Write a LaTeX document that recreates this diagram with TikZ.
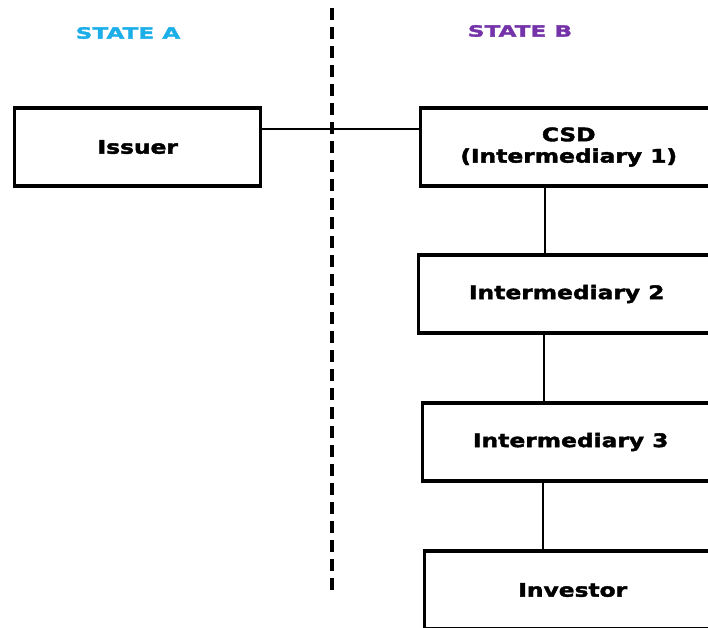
\documentclass[tikz,border=0pt]{standalone}
\usepackage{fontspec}
\setmainfont{DejaVu Sans}[FakeStretch=1.25, BoldFeatures={FakeBold=2.2}]
\newfontfamily\lblfont{DejaVu Sans}[FakeStretch=1.5, BoldFeatures={FakeBold=2.2}]
\definecolor{stateA}{HTML}{1CAEE8}
\definecolor{stateB}{HTML}{7433A8}
\tikzset{
  box/.style={draw=black, line width=2.6pt, rectangle, minimum width=222pt, minimum height=58.5pt, anchor=west, align=center, inner sep=0pt, font=\fontsize{14}{16}\selectfont\bfseries},
  link/.style={draw=black, line width=2.1pt},
  statelbl/.style={font=\lblfont\fontsize{11.6}{13}\selectfont\bfseries, inner sep=0pt},
  divider/.style={line width=2.4pt, dash pattern=on 9pt off 5.25pt}
}
\begin{document}
\begin{tikzpicture}[x=0.75pt, y=-0.75pt]
\useasboundingbox (0,0) rectangle (708,628);
\clip (0,0) rectangle (708,628);
% divider
\coordinate (dtop) at (332,8);
\coordinate (dbot) at (332,596);
\draw[divider] (dtop) -- (dbot);
% labels
\node[statelbl, text=stateA] (sa) at (128,33) {STATE A};
\node[statelbl, text=stateB] (sb) at (520,31) {STATE B};
% boxes
\node[box, minimum width=184.5pt] (issuer) at (13,147) {Issuer};
\node[box] (csd) at (419,147) {CSD\\(Intermediary 1)};
\node[box] (int2) at (417,294) {Intermediary 2};
\node[box] (int3) at (421,442) {Intermediary 3};
\node[box] (inv) at (423,590) {Investor};
% connectors
\path ([yshift=13.5pt]issuer.east) coordinate (p);
\draw[link] (p) -- (p -| csd.west);
\coordinate (c1) at (545,0);
\coordinate (c2) at (544,0);
\coordinate (c3) at (543,0);
\draw[link] (csd.south -| c1) -- (int2.north -| c1);
\draw[link] (int2.south -| c2) -- (int3.north -| c2);
\draw[link] (int3.south -| c3) -- (inv.north -| c3);
\end{tikzpicture}
\end{document}
